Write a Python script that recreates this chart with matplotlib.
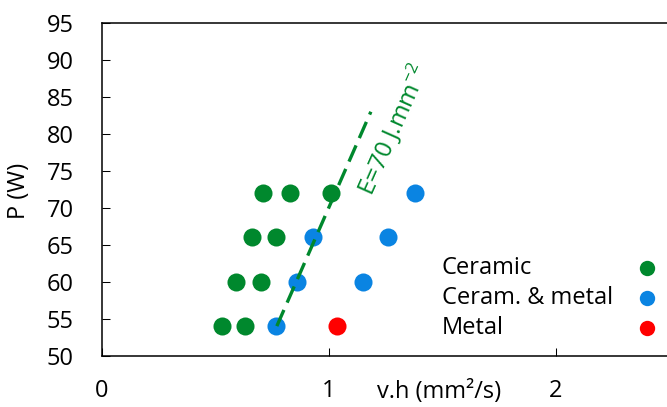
import numpy as np
import matplotlib
matplotlib.use("Agg")
import matplotlib.pyplot as plt

# Scan speed x hatch (mm^2/s) vs laser power (W)
ceramic_vh = [0.53, 0.63, 0.59, 0.70, 0.66, 0.77, 0.71, 0.83, 1.01]
ceramic_p = [54, 54, 60, 60, 66, 66, 72, 72, 72]

mixed_vh = [0.77, 0.86, 0.93, 1.15, 1.26, 1.38]
mixed_p = [54, 60, 66, 60, 66, 72]

metal_vh = [1.035]
metal_p = [54]

# iso-energy line E = P / (v.h)
energy = 70
line_p = np.array([54, 83])

green = "#00882D"
blue = "#0A84E2"
red = "#FF0000"

plt.rcParams['font.family'] = ['Open Sans', 'DejaVu Sans']
plt.rcParams['mathtext.fontset'] = 'custom'
plt.rcParams['mathtext.rm'] = 'Open Sans'
plt.rcParams['font.size'] = 17

fig = plt.figure(figsize=(6.67, 4.07), dpi=100)
ax = fig.add_axes([101.7 / 667, 51.3 / 407, 567.5 / 667, 332.7 / 407])

ax.scatter(ceramic_vh, ceramic_p, s=169, color=green, linewidths=0, zorder=3, label="Ceramic")
ax.scatter(mixed_vh, mixed_p, s=169, color=blue, linewidths=0, zorder=3, label="Ceram. & metal")
ax.scatter(metal_vh, metal_p, s=169, color=red, linewidths=0, zorder=3, label="Metal")

ax.plot(line_p / energy, line_p, color=green, linewidth=2.4, dashes=(5.3, 2.4), zorder=4)
ax.text(1.285, 80.6, "E=70 J.mm$^{\\mathregular{-2}}$", color=green, fontsize=17.5,
        rotation=66, rotation_mode='anchor', ha='center', va='center')

ax.set_xlim(0, 2.5)
ax.set_ylim(50, 95)
ax.set_xticks([0, 1, 2])
ax.set_yticks(np.arange(50, 96, 5))
ax.tick_params(axis='both', direction='in', length=5.8, width=0.75)
ax.tick_params(axis='x', pad=17)
ax.tick_params(axis='y', pad=20)
for s in ax.spines.values():
    s.set_linewidth(1.1)

ax.set_xlabel("v.h (mm²/s)")
ax.xaxis.set_label_coords(0.595, -0.108)
ax.xaxis.label.set_va('center')
ax.set_ylabel("P (W)")
ax.yaxis.set_label_coords(-0.146, 0.495)
ax.yaxis.label.set_va('center')

leg = ax.legend(loc='center left', bbox_to_anchor=(0.599, 0.173), frameon=False,
                markerfirst=False, borderpad=0, borderaxespad=0, labelspacing=0.25,
                handlelength=1.0, handletextpad=0.45, markerscale=0.85)
# keep labels left-aligned with the markers in one column on the right
for col in leg._legend_handle_box.get_children():
    for row in col.get_children():
        row.mode = 'expand'
        row.width = 217

fig.savefig("out.png", dpi=100)
